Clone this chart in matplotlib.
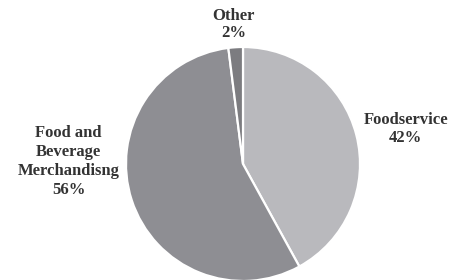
import matplotlib
matplotlib.use("Agg")
import matplotlib.pyplot as plt

categories = ["Foodservice", "Food and\nBeverage\nMerchandisng", "Other"]
shares = [42, 56, 2]
colors = ["#b9b9bd", "#8e8e93", "#7c7c80"]
label_pos = [(1.39, 0.30), (-1.49, 0.02), (-0.08, 1.19)]
spacings = [1.2, 1.25, 1.05]

fig = plt.figure(figsize=(4.52, 2.80), dpi=100)
r = 117
cx, cy = 243, 164
ax = fig.add_axes([(cx - r) / 452, (280 - cy - r) / 280, 2 * r / 452, 2 * r / 280])
ax.pie(shares, colors=colors, startangle=90, counterclock=False, radius=1,
       wedgeprops=dict(edgecolor="white", linewidth=1.6))
ax.set_xlim(-1, 1)
ax.set_ylim(-1, 1)
ax.set_aspect("equal")
ax.axis("off")

for cat, val, (x, y), ls in zip(categories, shares, label_pos, spacings):
    ax.text(x, y, f"{cat}\n{val}%", ha="center", va="center", fontsize=12,
            fontweight="bold", family="Liberation Serif", color="#333333",
            linespacing=ls, clip_on=False)

fig.savefig("out.png", dpi=100)
